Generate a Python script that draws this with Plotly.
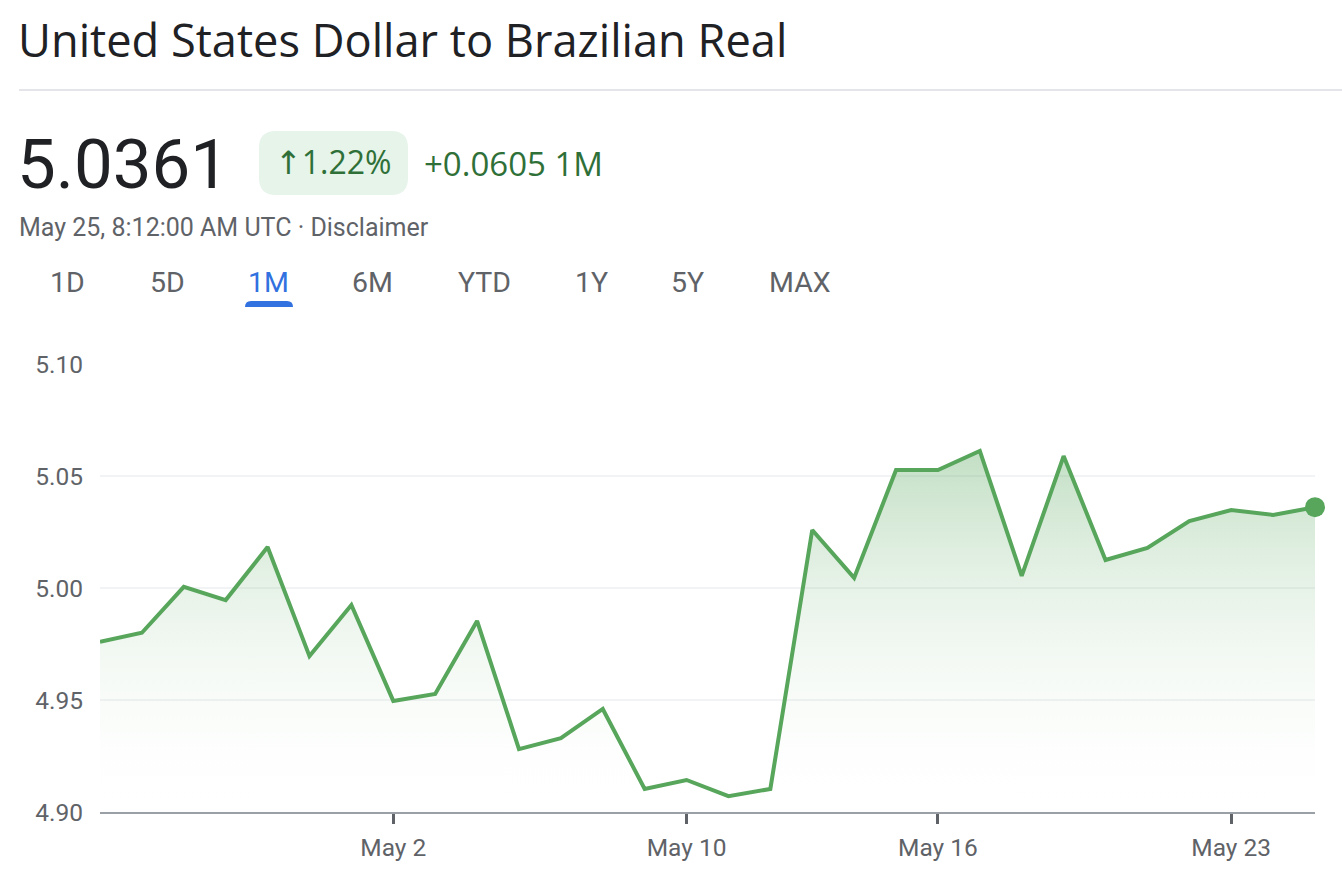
import plotly.graph_objects as go

W, H = 1342, 880
LEFT, RIGHT, TOP, BOTTOM = 100, 1315, 364, 812

dates = ['Apr 25', 'Apr 26', 'Apr 27', 'Apr 28', 'Apr 29', 'Apr 30', 'May 1', 'May 2', 'May 3', 'May 4',
         'May 5', 'May 6', 'May 8', 'May 9', 'May 10', 'May 11', 'May 12', 'May 13', 'May 14', 'May 15',
         'May 16', 'May 17', 'May 18', 'May 19', 'May 20', 'May 21', 'May 22', 'May 23', 'May 24', 'May 25']
rates = [4.9760, 4.9800, 5.0005, 4.9946, 5.0183, 4.9696, 4.9924, 4.9496, 4.9527, 4.9853,
         4.9281, 4.9330, 4.9460, 4.9103, 4.9143, 4.9071, 4.9103, 5.0259, 5.0045, 5.0527,
         5.0527, 5.0612, 5.0054, 5.0589, 5.0125, 5.0179, 5.0299, 5.0348, 5.0326, 5.0361]
x_ticks = ['May 2', 'May 10', 'May 16', 'May 23']
y_ticks = [4.90, 4.95, 5.00, 5.05, 5.10]
tabs = ['1D', '5D', '1M', '6M', 'YTD', '1Y', '5Y', 'MAX']
tab_centers = [67, 167, 268, 372, 484, 591, 687, 800]

DARK = '#202124'
GREY = '#5f6368'
GREEN_TEXT = '#2f7038'
LINE = '#57a65c'


# header items are placed in screen pixels
def px(x):
    return (x - LEFT) / (RIGHT - LEFT)


def py(y):
    return (BOTTOM - y) / (BOTTOM - TOP)


def label(text, x, y, size, color, font='Roboto', anchor='left'):
    fig.add_annotation(text=text, x=px(x), y=py(y), xref='paper', yref='paper', showarrow=False,
                       xanchor=anchor, yanchor='middle', align=anchor,
                       font=dict(family=font, size=size, color=color))


def rounded(x0, y0, x1, y1, r):
    return (f'M {px(x0 + r)} {py(y0)} L {px(x1 - r)} {py(y0)} Q {px(x1)} {py(y0)} {px(x1)} {py(y0 + r)} '
            f'L {px(x1)} {py(y1 - r)} Q {px(x1)} {py(y1)} {px(x1 - r)} {py(y1)} '
            f'L {px(x0 + r)} {py(y1)} Q {px(x0)} {py(y1)} {px(x0)} {py(y1 - r)} '
            f'L {px(x0)} {py(y0 + r)} Q {px(x0)} {py(y0)} {px(x0 + r)} {py(y0)} Z')


fig = go.Figure()

# area and line
fig.add_trace(go.Scatter(
    x=dates, y=rates, mode='lines', fill='tozeroy',
    line=dict(color=LINE, width=4),
    fillgradient=dict(type='vertical', start=5.0612, stop=4.895,
                      colorscale=[[0, 'rgba(87,166,92,0.36)'], [1, 'rgba(255,255,255,0)']]),
    hoverinfo='skip', showlegend=False,
))
# last price dot
fig.add_trace(go.Scatter(
    x=dates[-1:], y=rates[-1:], mode='markers', cliponaxis=False,
    marker=dict(color=LINE, size=20), hoverinfo='skip', showlegend=False,
))

fig.update_layout(
    width=W, height=H,
    margin=dict(l=LEFT, r=W - RIGHT, t=TOP, b=H - BOTTOM, autoexpand=False),
    paper_bgcolor='white', plot_bgcolor='white',
    font=dict(family='Roboto', color=GREY, size=24.5),
    xaxis=dict(type='category', categoryorder='array', categoryarray=dates,
               range=[0, len(dates) - 1], tickvals=x_ticks, ticktext=x_ticks,
               ticks='outside', ticklen=10, tickwidth=3, tickcolor=GREY,
               ticklabelstandoff=3, showgrid=False, zeroline=False,
               showline=True, linecolor='#9aa0a6', linewidth=2),
    yaxis=dict(range=[4.90, 5.10], tickvals=y_ticks, tickformat='.2f',
               ticks='outside', ticklen=10, tickcolor='rgba(0,0,0,0)',
               ticklabelstandoff=1, showgrid=True, gridcolor='#f1f3f4', gridwidth=2,
               zeroline=False, showline=False),
)

fig.add_shape(type='line', xref='paper', yref='paper', x0=px(19), x1=px(W), y0=py(90), y1=py(90),
              line=dict(color='#e3e5e8', width=2))
fig.add_shape(type='path', xref='paper', yref='paper', path=rounded(259, 131, 408, 195, 17),
              fillcolor='#e6f4ea', line=dict(width=0), layer='below')
fig.add_shape(type='path', xref='paper', yref='paper',
              path=f'M {px(245)} {py(307)} Q {px(245)} {py(301)} {px(251)} {py(301)} L {px(287)} {py(301)} '
                   f'Q {px(293)} {py(301)} {px(293)} {py(307)} Z',
              fillcolor='#3271e0', line=dict(width=0))

label('United States Dollar to Brazilian Real', 16, 40, 45.2, DARK, 'Open Sans')
label('5.0361', 15, 164, 69, DARK)
label('<span style="font-family:DejaVu Sans">↑</span>1.22%', 273, 162, 32, GREEN_TEXT, 'Open Sans')
label('+0.0605 1M', 422, 163, 33, GREEN_TEXT, 'Open Sans')
label('May 25, 8:12:00 AM UTC · Disclaimer', 17, 227, 25, GREY)
for tab, center in zip(tabs, tab_centers):
    label(tab, center, 282, 28.5, '#3271e0' if tab == '1M' else GREY, anchor='center')

fig.write_html('out.html', config=dict(displayModeBar=False),
               post_script='document.body.style.margin = "0";')
